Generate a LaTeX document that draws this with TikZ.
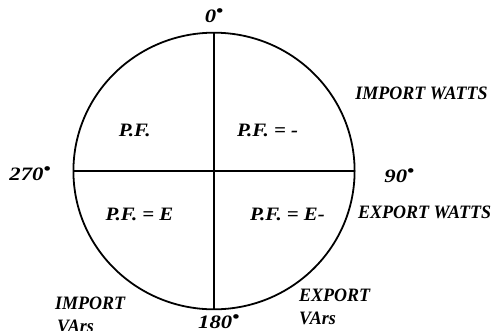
\documentclass[tikz,border=0pt]{standalone}
\usepackage{fontspec}
\setmainfont{Liberation Serif}
\newfontfamily\widefont{Liberation Serif}[FakeStretch=1.1]
\newfontfamily\digitfont{Liberation Serif}[FakeStretch=1.2]
\newfontfamily\tightfont{Liberation Serif}[FakeStretch=0.95]
\usepackage{tikz}
\usetikzlibrary{shapes.geometric}
\newcommand{\dgr}{\raisebox{6pt}{\fontsize{17}{17}\selectfont•}}
\tikzset{
  lbl/.style={font=\fontsize{19}{22}\selectfont\tightfont\bfseries\itshape, inner sep=0pt},
  wlbl/.style={font=\fontsize{19}{22}\selectfont\widefont\bfseries\itshape, inner sep=0pt},
  dlbl/.style={font=\fontsize{19}{22}\selectfont\digitfont\bfseries\itshape, inner sep=0pt},
  dial/.style={ellipse, draw, line width=1.8pt, minimum width=9.92cm, minimum height=9.76cm, inner sep=0pt, outer sep=0pt},
  cross/.style={line width=2.8pt}
}

\begin{document}
\begin{tikzpicture}
  \useasboundingbox (-7.55,-5.644) rectangle (9.807,6.033);

  % Phase circle and axes
  \node[dial] (dial) at (0,0) {};
  \draw[cross] (dial.north) -- (dial.south);
  \draw[cross] (dial.west) -- (dial.east);

  % Angle labels
  \node[dlbl, anchor=base] (deg0) at (0,5.23) {0\dgr};
  \node[dlbl, anchor=base] (deg90) at (6.54,-0.42) {90\dgr};
  \node[dlbl, anchor=base] (deg180) at (0.17,-5.57) {180\dgr};
  \node[dlbl, anchor=base] (deg270) at (-6.49,-0.32) {270\dgr};

  % Quadrant labels
  \foreach \nm/\x/\y/\txt in {pfa/-2.80/1.23/P.F., pfb/1.89/1.23/P.F. = -, pfc/-2.63/-1.76/P.F. = E, pfd/2.59/-1.76/P.F. = E-} {
    \node[wlbl, anchor=base] (\nm) at (\x,\y) {\txt};
  }

  % Watts and VArs
  \node[lbl, anchor=base] (impw) at (7.32,2.54) {IMPORT WATTS};
  \node[lbl, anchor=base] (expw) at (7.43,-1.66) {EXPORT WATTS};
  \node[lbl, anchor=base west] (impv) at (-5.61,-4.90) {IMPORT};
  \node[lbl, anchor=base west] (impvb) at (-5.54,-5.68) {VArs};
  \node[lbl, anchor=base west] (expv) at (3.00,-4.62) {EXPORT};
  \node[lbl, anchor=base west] (expvb) at (3.00,-5.40) {VArs};
\end{tikzpicture}
\end{document}
